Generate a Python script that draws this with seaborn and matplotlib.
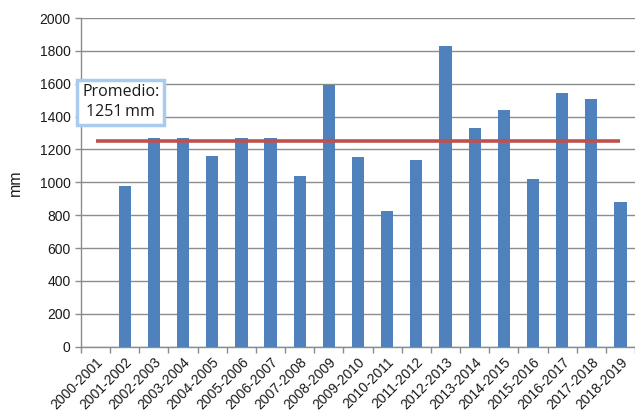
import numpy             as np
import pandas            as pd
import seaborn           as sns
import matplotlib.pyplot as plt

seasons = ['2000-2001', '2001-2002', '2002-2003', '2003-2004', '2004-2005',
           '2005-2006', '2006-2007', '2007-2008', '2008-2009', '2009-2010',
           '2010-2011', '2011-2012', '2012-2013', '2013-2014', '2014-2015',
           '2015-2016', '2016-2017', '2017-2018', '2018-2019']
rain_mm = [np.nan, 975, 1272, 1272, 1163, 1267, 1267, 1037, 1592, 1153,
           825, 1138, 1828, 1330, 1438, 1020, 1541, 1507, 880]
promedio = 1251

df = pd.DataFrame({'season': seasons, 'mm': rain_mm})

sns.set_style('white')
plt.rcParams['font.family'] = ['Liberation Sans', 'DejaVu Sans']

fig = plt.figure(figsize = (6.35, 4.13), dpi = 100)
ax  = fig.add_axes([0.1276, 0.1605, 0.8724, 0.7959])

sns.barplot(data = df, x = 'season', y = 'mm', order = seasons, color = '#4F81BD',
            saturation = 1, width = 0.42, linewidth = 0, ax = ax, zorder = 3)

n = len(seasons)
ax.plot(range(n), [promedio] * n, color = '#C0504D', linewidth = 2.6,
        solid_capstyle = 'butt', zorder = 4)

ax.set_ylim(0, 2000)
ax.set_xlim(-0.5, n - 0.5)
ax.set_yticks(range(0, 2001, 200))
ax.yaxis.grid(True, color = '#8C8C8C', linewidth = 1, zorder = 0)
ax.set_axisbelow(True)

ax.set_xticks(range(n))
ax.set_xticklabels(seasons, rotation = 45, ha = 'right', rotation_mode = 'anchor',
                   fontsize = 10, color = '#1a1a1a')
ax.set_xticks(np.arange(-0.5, n, 1), minor = True)
ax.tick_params(axis = 'x', which = 'major', length = 0, pad = 6)
ax.tick_params(axis = 'x', which = 'minor', length = 4, color = '#8C8C8C', width = 1,
               direction = 'out', bottom = True)
ax.tick_params(axis = 'y', length = 4, color = '#8C8C8C', width = 1, left = True,
               labelsize = 10, labelcolor = '#1a1a1a')

ax.set_xlabel('')
ax.set_ylabel('mm', fontsize = 11.5, color = '#1a1a1a', labelpad = 12)

for side in ['top', 'right']:
    ax.spines[side].set_visible(False)
for side in ['left', 'bottom']:
    ax.spines[side].set_color('#8C8C8C')
    ax.spines[side].set_linewidth(1)

ax.text(0.86, 1488, 'Promedio:\n1251\u2009mm', ha = 'center', va = 'center',
        fontsize = 11.5, family = ['Open Sans', 'DejaVu Sans'], color = '#1a1a1a',
        linespacing = 1.3, zorder = 6,
        bbox = dict(boxstyle = 'square,pad=0.3', facecolor = 'white',
                    edgecolor = '#A9CBEE', linewidth = 2.5))

fig.savefig('out.png', dpi = 100)
